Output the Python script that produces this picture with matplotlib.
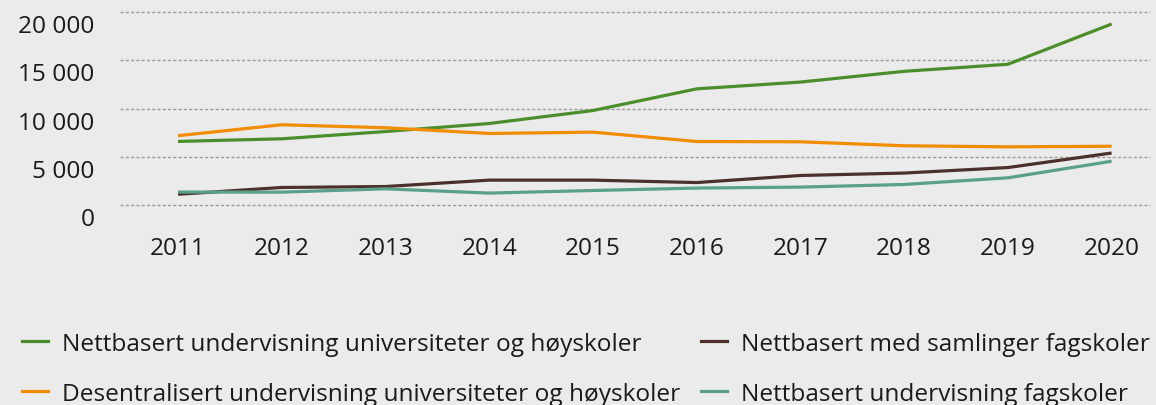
import matplotlib
matplotlib.use("Agg")
import matplotlib.pyplot as plt
import matplotlib.transforms as mtransforms
from matplotlib.lines import Line2D

years = [2011, 2012, 2013, 2014, 2015, 2016, 2017, 2018, 2019, 2020]
nett_uh = [6600, 6870, 7620, 8450, 9790, 12030, 12730, 13840, 14570, 18730]
desent_uh = [7190, 8320, 8010, 7420, 7560, 6590, 6560, 6150, 6040, 6100]
nett_saml_fag = [1140, 1840, 1940, 2600, 2600, 2350, 3080, 3330, 3900, 5400]
nett_fag = [1370, 1360, 1700, 1260, 1530, 1780, 1880, 2150, 2840, 4550]

labels = [
    "Nettbasert undervisning universiteter og høyskoler",
    "Desentralisert undervisning universiteter og høyskoler",
    "Nettbasert med samlinger fagskoler",
    "Nettbasert undervisning fagskoler",
]
colors = ["#4a8f2c", "#f28c00", "#4b3129", "#5aa08b"]
yticks = [0, 5000, 10000, 15000, 20000]
ytick_labels = ["0", "5 000", "10 000", "15 000", "20 000"]

plt.rcParams["font.family"] = ["Open Sans", "DejaVu Sans"]
bg = "#ebebeb"
fs = 17.6
fig = plt.figure(figsize=(11.56, 4.06), dpi=100, facecolor=bg)
ax = fig.add_axes([120 / 1156, 1 - 206.3 / 406, 1030 / 1156, (206.3 - 12.7) / 406])
ax.set_facecolor(bg)

series = [nett_uh, desent_uh, nett_saml_fag, nett_fag]
for vals, c, lab in zip(series, colors, labels):
    ax.plot(years, vals, color=c, lw=2.3, label=lab, solid_capstyle="butt", zorder=3)

ax.set_xlim(2010.44, 2020.37)
ax.set_ylim(0, 20000)
ax.set_yticks(yticks)
ax.set_yticklabels(ytick_labels)
ax.set_xticks(years)
ax.set_xticklabels([str(y) for y in years])
ax.grid(axis="y", color="#9e9e9e", lw=1.0, linestyle=(0, (2.3, 1.5)))
ax.grid(axis="x", visible=False)
for gl in ax.get_ygridlines():
    gl.set_clip_on(False)
for s in ax.spines.values():
    s.set_visible(False)
ax.tick_params(axis="both", length=0, labelsize=fs, colors="#1a1a1a")
ax.tick_params(axis="y", pad=18.5)
ax.tick_params(axis="x", pad=22)
offset = mtransforms.ScaledTranslation(0, -11 / 100, fig.dpi_scale_trans)
for t in ax.get_yticklabels():
    t.set_transform(t.get_transform() + offset)

handles = [Line2D([], [], color=c, lw=2.3) for c in colors]
leg = fig.legend(handles, labels, ncol=2, loc="upper left",
                 bbox_to_anchor=(22 / 1156, 1 - 333 / 406), frameon=False,
                 fontsize=fs, handlelength=1.07, handletextpad=0.57,
                 columnspacing=0.85, labelspacing=1.05, labelcolor="#1a1a1a",
                 borderpad=0, borderaxespad=0)

fig.savefig("out.png", dpi=100, facecolor=bg)
